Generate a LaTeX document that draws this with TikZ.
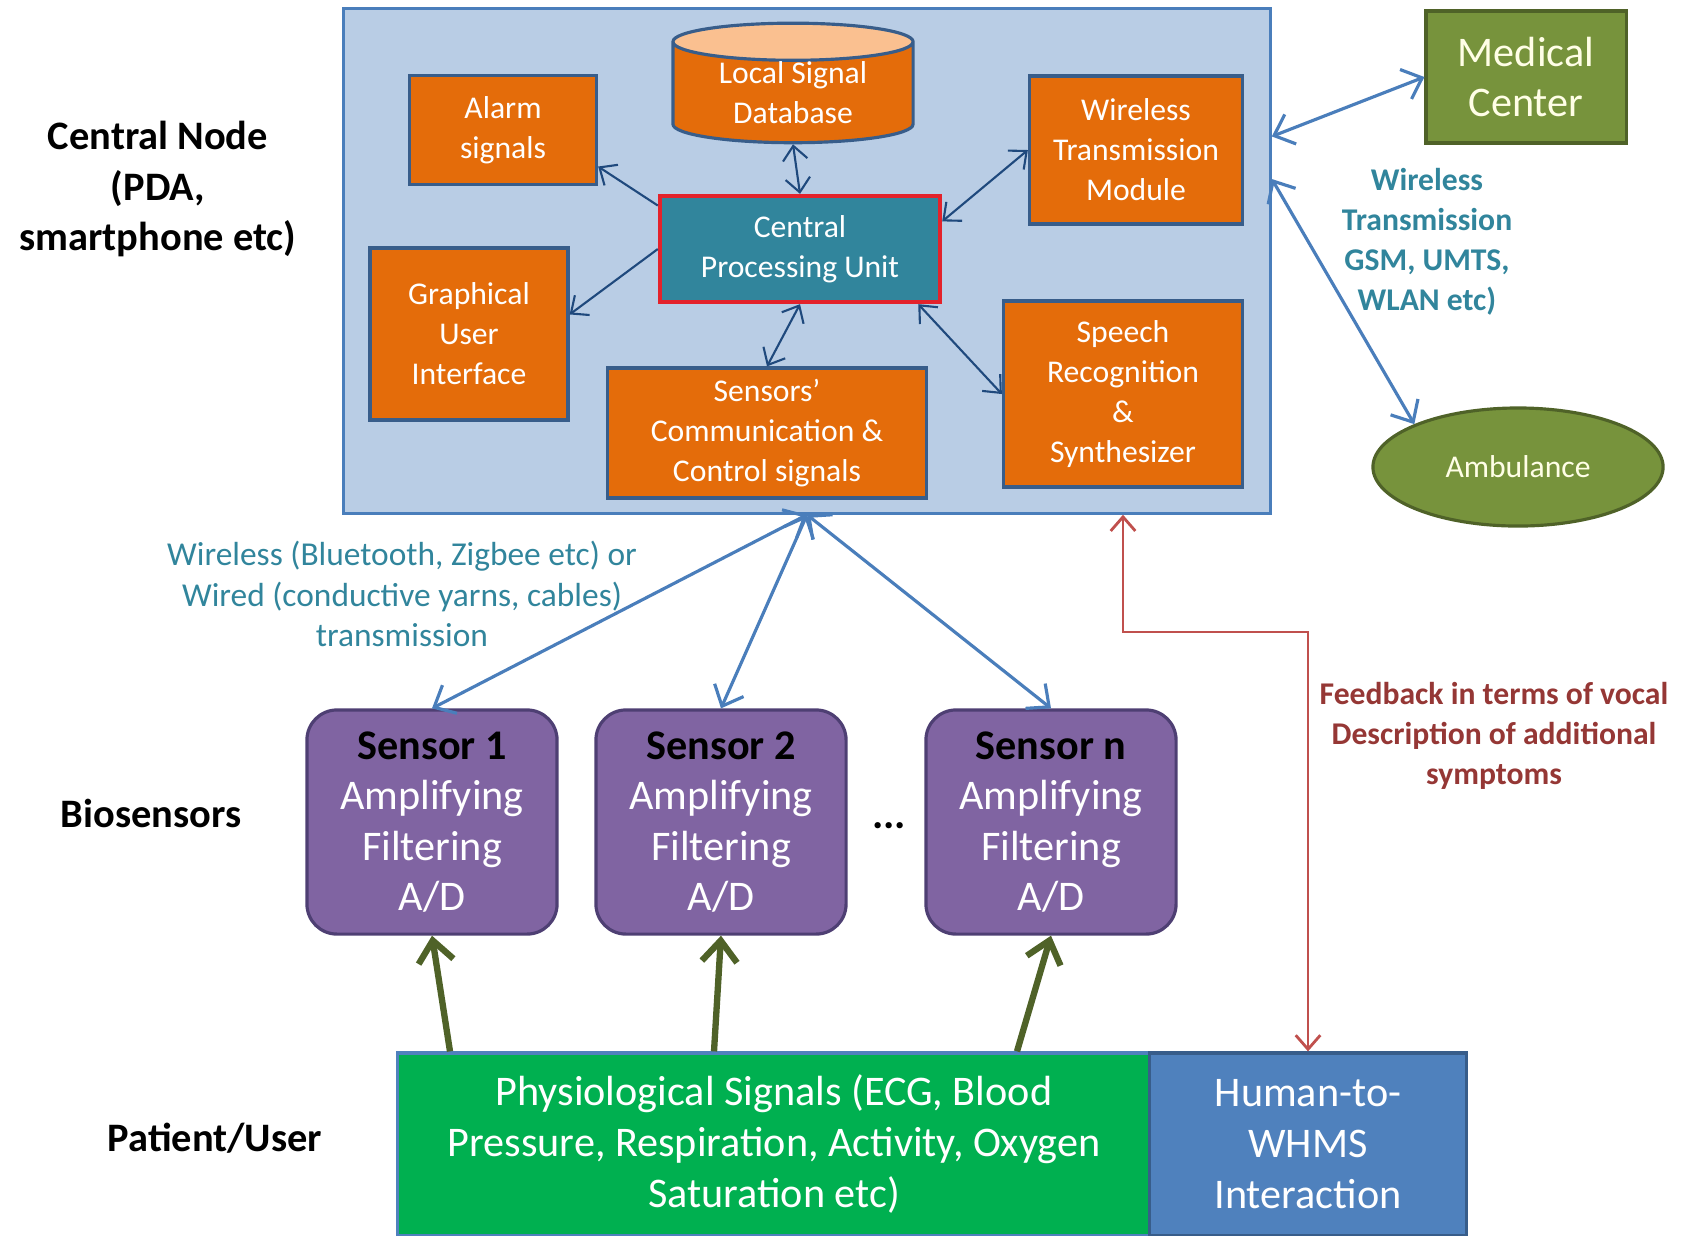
\documentclass[tikz,border=0pt]{standalone}
\usepackage{fontspec}
\setmainfont{Carlito}
\usepackage{tikz}
\usetikzlibrary{shapes.geometric, arrows.meta, calc}

\definecolor{boxorange}{HTML}{E46C0A}
\definecolor{toporange}{HTML}{FAC090}
\definecolor{inline}{HTML}{385D8A}
\definecolor{cpufill}{HTML}{31859C}
\definecolor{cpuborder}{HTML}{E3222B}
\definecolor{bigfill}{HTML}{B9CDE5}
\definecolor{bigborder}{HTML}{4A7EBB}
\definecolor{medgreen}{HTML}{77933C}
\definecolor{medborder}{HTML}{4F6228}
\definecolor{sensorfill}{HTML}{8064A2}
\definecolor{sensorborder}{HTML}{4E3F73}
\definecolor{psgreen}{HTML}{00B050}
\definecolor{hwblue}{HTML}{4F81BD}
\definecolor{linkblue}{HTML}{4A7EBB}
\definecolor{innerarrow}{HTML}{1F497D}
\definecolor{olivearrow}{HTML}{4F6228}
\definecolor{fbred}{HTML}{C0504D}
\definecolor{fbtext}{HTML}{953735}
\definecolor{tealtext}{HTML}{31859C}

\begin{document}
\begin{tikzpicture}[x=0.01cm, y=-0.01cm,
	inbox/.style={draw=inline, line width=0.9pt, fill=boxorange, text=white, align=center, inner sep=0pt, font=\fontsize{9}{11.4}\selectfont},
	sensorbox/.style={draw=sensorborder, line width=0.9pt, fill=sensorfill, text=white, rounded corners=0.3cm, align=center, inner sep=0pt, minimum width=2.5cm, minimum height=2.24cm, font=\fontsize{12}{14.4}\selectfont},
	sidelabel/.style={align=center, font=\bfseries\fontsize{11.5}{14.3}\selectfont},
	link/.style={draw=linkblue, line width=0.9pt, {Straight Barb[length=5pt, width=9pt]}-{Straight Barb[length=5pt, width=9pt]}},
	inlink/.style={draw=innerarrow, line width=0.6pt},
	sigarrow/.style={draw=olivearrow, line width=1.8pt, -{Straight Barb[length=6pt, width=10pt]}},
	>={Straight Barb[length=4pt, width=7pt]}]
	\useasboundingbox (0,0) rectangle (1688,1235);
	
	% Central node
	\node[draw=bigborder, line width=0.9pt, fill=bigfill, minimum width=9.26cm, minimum height=5.04cm] (cn) at (807,261) {};
	\node[cylinder, shape border rotate=90, aspect=0.25, draw=inline, line width=0.9pt, cylinder uses custom fill, cylinder body fill=boxorange, cylinder end fill=toporange, text=white, align=center, inner sep=0pt, minimum width=2.4cm, minimum height=0.92cm, font=\fontsize{9}{11.4}\selectfont] (db) at (793,93) {Local Signal\\Database};
	\node[inbox, minimum width=1.87cm, minimum height=1.09cm] (alarm) at (503,130) {Alarm\\signals};
	\node[inbox, minimum width=2.13cm, minimum height=1.48cm] (wtm) at (1136,150) {Wireless\\Transmission\\Module};
	\node[draw=cpuborder, line width=1.2pt, fill=cpufill, text=white, align=center, inner sep=0pt, minimum width=2.8cm, minimum height=1.06cm, font=\fontsize{9}{11.4}\selectfont] (cpu) at (800,249) {Central\\Processing Unit};
	\node[inbox, minimum width=1.98cm, minimum height=1.72cm] (gui) at (469,334) {Graphical\\User\\Interface};
	\node[inbox, minimum width=3.18cm, minimum height=1.3cm] (scc) at (767,433) {Sensors'\\Communication \&\\Control signals};
	\node[inbox, minimum width=2.39cm, minimum height=1.86cm] (srs) at (1123,394) {Speech\\Recognition\\\&\\Synthesizer};
	
	\draw[inlink, <->] (cpu.north) -- (db.south);
	\draw[inlink, ->] (cpu.163) -- (alarm.-21);
	\draw[inlink, <->] (cpu.11) -- (wtm.west);
	\draw[inlink, ->] (cpu.west) -- (gui.11);
	\draw[inlink, <->] (cpu.south) -- (scc.north);
	\draw[inlink, <->] (cpu.-25) -- (srs.west);
	
	% Remote side
	\node[draw=medborder, line width=0.9pt, fill=medgreen, text=white!90!yellow, align=center, inner sep=0pt, minimum width=2cm, minimum height=1.32cm, font=\fontsize{12}{14.4}\selectfont] (mc) at (1526,77) {Medical\\Center};
	\node[ellipse, draw=medborder, line width=0.9pt, fill=medgreen, text=white!90!yellow, inner sep=0pt, minimum width=2.9cm, minimum height=1.18cm, font=\fontsize{9}{11.4}\selectfont] (amb) at (1518,467) {Ambulance};
	\node[align=center, text=tealtext, font=\bfseries\fontsize{9}{11.4}\selectfont] (wtlabel) at (1427,242) {Wireless\\Transmission\\GSM, UMTS,\\WLAN etc)};
	\draw[link] (cn.15.7) -- (mc.west);
	\draw[link] (cn.10) -- (amb.north west);
	
	% Side labels
	\node[sidelabel] (cnlabel) at (158,189) {Central Node\\(PDA,\\smartphone etc)};
	\node[sidelabel] (biolabel) at (151,813) {Biosensors};
	\node[sidelabel] (patlabel) at (215,1138) {Patient/User};
	
	% Biosensors
	\node[sensorbox] (s1) at (432,822) {\textcolor{black}{\bfseries Sensor 1}\\Amplifying\\Filtering\\A/D};
	\node[sensorbox] (s2) at (721,822) {\textcolor{black}{\bfseries Sensor 2}\\Amplifying\\Filtering\\A/D};
	\node[sensorbox] (sn) at (1051,822) {\textcolor{black}{\bfseries Sensor n}\\Amplifying\\Filtering\\A/D};
	\node[font=\bfseries\fontsize{12}{14.4}\selectfont] (dots) at (889,826) {...};
	
	\coordinate (hub) at (cn.south);
	\foreach \s in {s1, s2, sn}
		\draw[link] (hub) -- (\s.north);
	\node[align=center, text=tealtext, font=\fontsize{9.5}{11.6}\selectfont] (wllabel) at (402,594) {Wireless (Bluetooth, Zigbee etc) or\\Wired (conductive yarns, cables)\\transmission};
	
	% Patient/User
	\node[draw=hwblue, line width=0.9pt, fill=psgreen, text=white, align=center, inner sep=0pt, minimum width=7.52cm, minimum height=1.82cm, font=\fontsize{12}{14.4}\selectfont] (ps) at (774,1144) {Physiological Signals (ECG, Blood\\Pressure, Respiration, Activity, Oxygen\\Saturation etc)};
	\node[draw=inline, line width=0.9pt, fill=hwblue, text=white, align=center, inner sep=0pt, minimum width=3.17cm, minimum height=1.82cm, font=\fontsize{12}{14.4}\selectfont] (hw) at (1308,1144) {Human-to-\\WHMS\\Interaction};
	
	\foreach \s/\x in {s1/450, s2/714, sn/1017}
		\draw[sigarrow] (ps.north -| \x,0) -- (\s.south);
	
	% Feedback
	\coordinate (fbturn) at (1123,632);
	\draw[draw=fbred, line width=0.8pt, <->] (hw.north) |- (fbturn) -- (fbturn |- cn.south);
	\node[align=center, text=fbtext, font=\bfseries\fontsize{9}{11.4}\selectfont] (fblabel) at (1494,736) {Feedback in terms of vocal\\Description of additional\\symptoms};
	
\end{tikzpicture}
\end{document}
